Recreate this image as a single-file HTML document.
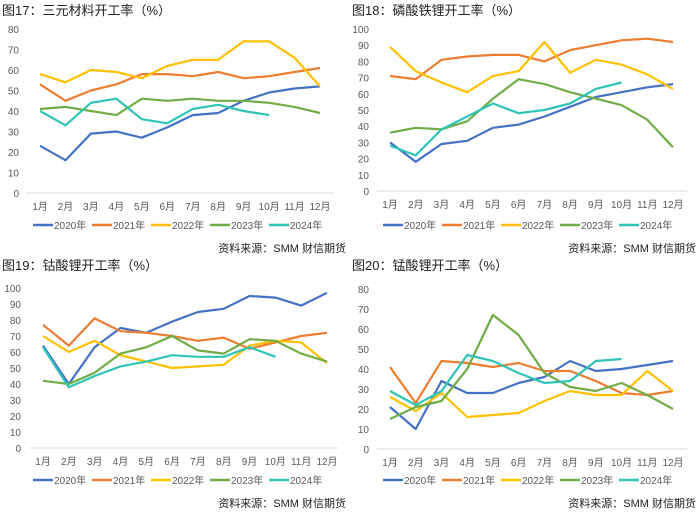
<!DOCTYPE html>
<html><head><meta charset="utf-8">
<style>
html,body{margin:0;padding:0;background:#fff;}
svg{display:block;font-family:"Liberation Sans","Noto Sans CJK SC",sans-serif;}
</style></head>
<body>
<svg id="c" width="700" height="513" viewBox="0 0 700 513"></svg>
<script>
const months = ["1月","2月","3月","4月","5月","6月","7月","8月","9月","10月","11月","12月"];
const years = ["2020年","2021年","2022年","2023年","2024年"];
const colors = ["#4472C4","#ED7D31","#FFC000","#70AD47","#2EC4B6"];

const p1_2020 = [23,16,29,30,27,32,38,39,45,49,51,52];
const p1_2021 = [53,45,50,53,58,58,57,59,56,57,59,61];
const p1_2022 = [58,54,60,59,56,62,65,65,74,74,66,52];
const p1_2023 = [41,42,40,38,46,45,46,45,45,44,42,39];
const p1_2024 = [40,33,44,46,36,34,41,43,40,38];
const p1_ticks = [0,10,20,30,40,50,60,70,80];

const p2_2020 = [30,18,29,31,39,41,46,52,58,61,64,66];
const p2_2021 = [71,69,81,83,84,84,80,87,90,93,94,92];
const p2_2022 = [89,74,67,61,71,74,92,73,81,78,72,63];
const p2_2023 = [36,39,38,43,57,69,66,61,57,53,44,27];
const p2_2024 = [28,22,38,46,54,48,50,54,63,67];
const p2_ticks = [0,10,20,30,40,50,60,70,80,90,100];

const p3_2020 = [64,40,63,75,72,79,85,87,95,94,89,97];
const p3_2021 = [77,64,81,73,72,70,67,69,62,66,70,72];
const p3_2022 = [70,60,67,58,54,50,51,52,64,67,66,53];
const p3_2023 = [42,40,47,59,63,70,61,59,68,67,59,54];
const p3_2024 = [63,38,45,51,54,58,57,57,63,57];
const p3_ticks = [0,10,20,30,40,50,60,70,80,90,100];

const p4_2020 = [21,10,34,28,28,33,36,44,39,40,42,44];
const p4_2021 = [41,23,44,43,41,43,39,39,34,28,27,29];
const p4_2022 = [26,19,28,16,17,18,24,29,27,27,39,29];
const p4_2023 = [15,21,24,40,67,57,38,31,29,33,27,20];
const p4_2024 = [29,22,29,47,44,38,33,34,44,45];
const p4_ticks = [0,10,20,30,40,50,60,70,80];

const svg = document.getElementById('c');
const NS = "http://www.w3.org/2000/svg";
function mk(tag, attrs, parent){
  const e = document.createElementNS(NS, tag);
  for (const k in attrs) e.setAttribute(k, attrs[k]);
  parent.appendChild(e);
  return e;
}
function txt(parent, x, y, s, size, fill, anchor){
  const t = mk('text', {x:x, y:y, 'font-size':size, fill:fill, 'text-anchor':anchor||'start'}, parent);
  t.textContent = s;
  return t;
}

function panel(cfg){
  const g = mk('g', {}, svg);
  
  
  const ox = cfg.ox, oy = cfg.oy;
  const title = txt(g, ox+2, oy+15, cfg.title, 13, '#222');
  
  
  const max = cfg.ticks[cfg.ticks.length-1];
  const yS = v => cfg.y0 + (cfg.yTop - cfg.y0) * v / max;
  const xS = i => cfg.x1 + (cfg.x12 - cfg.x1) * i / 11;
  cfg.ticks.forEach(t => {
    const tl = txt(g, cfg.tickX, yS(t)+4, String(t), 10, '#595959', 'end');
    
    
  });
  const ax = mk('line', {x1:cfg.axL, x2:cfg.axR, y1:yS(0), y2:yS(0), stroke:'#d9d9d9', 'stroke-width':1}, g);
  
  
  months.forEach((m,i) => {
    const ml = txt(g, xS(i), yS(0)+17, m, 10, '#595959', 'middle');
    
    
  });
  cfg.series.forEach((arr, si) => {
    const pts = arr.map((v,i) => xS(i).toFixed(1)+','+yS(v).toFixed(1)).join(' ');
    const pl = mk('polyline', {points:pts, fill:'none', stroke:colors[si], 'stroke-width':2.2, 'stroke-linejoin':'round'}, g);
    
    
  });
  const ly = oy + 225;
  years.forEach((y, si) => {
    const lx = ox + 33 + si*59;
    const lg = mk('g', {}, g);
    
    
    mk('line', {x1:lx, x2:lx+20, y1:ly, y2:ly, stroke:colors[si], 'stroke-width':2.5}, lg);
    txt(lg, lx+21, ly+4, y, 10, '#595959');
  });
  const src = txt(g, ox+346, oy+252, '资料来源：SMM 财信期货', 11, '#222', 'end');
  
  
}

panel({name:'panel-ternary', title:'图17：三元材料开工率（%）', ox:0, oy:0, x1:40, x12:320, y0:193, yTop:29, tickX:19, axL:26, axR:334, ticks:p1_ticks, series:[p1_2020,p1_2021,p1_2022,p1_2023,p1_2024]});
panel({name:'panel-lfp', title:'图18：磷酸铁锂开工率（%）', ox:350, oy:0, x1:390, x12:673, y0:191, yTop:29, tickX:369, axL:377, axR:687, ticks:p2_ticks, series:[p2_2020,p2_2021,p2_2022,p2_2023,p2_2024]});
panel({name:'panel-lco', title:'图19：钴酸锂开工率（%）', ox:0, oy:255, x1:43, x12:327, y0:448, yTop:288, tickX:21, axL:30, axR:338, ticks:p3_ticks, series:[p3_2020,p3_2021,p3_2022,p3_2023,p3_2024]});
panel({name:'panel-lmo', title:'图20：锰酸锂开工率（%）', ox:350, oy:255, x1:390, x12:673, y0:449, yTop:289, tickX:369, axL:377, axR:687, ticks:p4_ticks, series:[p4_2020,p4_2021,p4_2022,p4_2023,p4_2024]});
</script>
</body></html>
